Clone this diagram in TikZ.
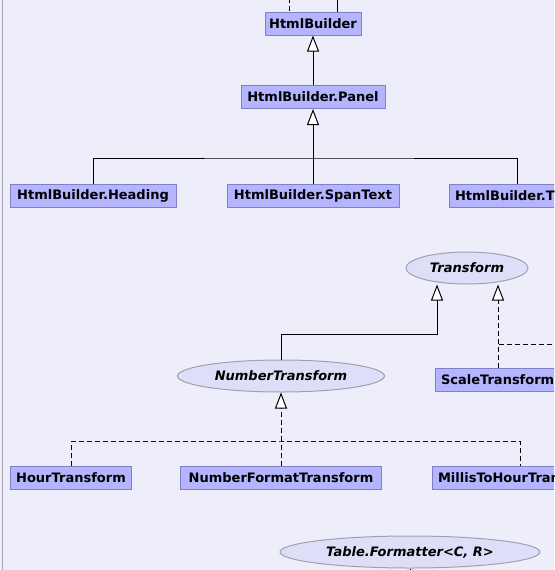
\documentclass[tikz,border=0pt]{standalone}
\usepackage{fontspec}
\usepackage{xcolor}
\usetikzlibrary{arrows.meta,shapes.geometric,calc}
\newfontfamily\dejavu{DejaVu Sans}

\definecolor{bgcol}{RGB}{238,238,250}
\definecolor{framecol}{RGB}{168,168,184}
\definecolor{clsfill}{RGB}{180,180,255}
\definecolor{clsline}{RGB}{128,128,200}
\definecolor{iffill}{RGB}{222,222,248}
\definecolor{ifline}{RGB}{160,160,176}

\tikzset{
  cls/.style={draw=clsline,fill=clsfill,line width=1pt,inner xsep=2pt,inner ysep=0pt,
    minimum height=23pt,font=\dejavu\bfseries\fontsize{13}{15}\selectfont},
  cutcls/.style={cls,inner xsep=6pt,align=left},
  iface/.style={ellipse,draw=ifline,fill=iffill,line width=1pt,inner sep=0pt,
    minimum height=32pt,font=\dejavu\bfseries\itshape\fontsize{13}{15}\selectfont},
  link/.style={line width=1pt},
  dashlink/.style={link,dash pattern=on 5pt off 3pt},
  inherit/.style={link,-{Triangle[fill=white,length=16pt,width=12pt]}},
  realize/.style={inherit,dash pattern=on 5pt off 3pt},
}

\begin{document}
\begin{tikzpicture}[x=1pt,y=-1pt]
\useasboundingbox (0,0) rectangle (554,570);
\fill[bgcol] (0,0) rectangle (554,570);
\clip (0,0) rectangle (554,570);
\draw[framecol,line width=1pt] (2,0)--(2,570);

% HtmlBuilder tree
\node[cls,minimum width=96pt] (hb) at (313,23.5){HtmlBuilder};
\node[cls,minimum width=144pt] (panel) at (313,97){HtmlBuilder.Panel};
\node[cls,minimum width=166pt] (heading) at (93,195.5){HtmlBuilder.Heading};
\node[cls,minimum width=172pt] (span) at (313,195.5){HtmlBuilder.SpanText};
\node[cutcls,text width=124pt] (htext) at (517,195.5){HtmlBuilder.T};

\coordinate (upA) at (289,-10);
\coordinate (upB) at (337,-10);
\draw[dashlink] (upA)--(upA |- hb.north);
\draw[link] (upB)--(upB |- hb.north);

\draw[inherit] (panel)--(hb);
\coordinate (jp) at (313,158);
\draw[link] (heading.north) |- (jp) -| (htext.north);
\draw[link] (span.north)--(jp);
\draw[inherit] (jp)--(panel);

% Transform tree
\node[iface,minimum width=122pt] (transform) at (467,268){Transform};
\node[iface,minimum width=207pt] (numtr) at (281,376){NumberTransform};
\node[cutcls,text width=114pt] (scale) at (498,379.5){ScaleTransform};

\coordinate (jt) at (437,334);
\draw[inherit] (numtr.north) |- (jt) -- ($(transform.south)+(-30,0)$);
\draw[realize] (scale.north)--($(transform.south)+(31,0)$);
\coordinate (offr) at (560,344);
\draw[dashlink] (offr)--(offr -| scale.north);

\node[cls,minimum width=121pt] (hour) at (71,477.5){HourTransform};
\node[cls,minimum width=201pt] (nft) at (281,477.5){NumberFormatTransform};
\node[cutcls,text width=164pt] (millis) at (520,477.5){MillisToHourTran};

\coordinate (jn) at (281,441);
\draw[dashlink] (hour.north) |- (jn) -| (millis.north);
\draw[dashlink] (nft.north)--(jn);
\draw[realize] (jn)--(numtr);

% Formatter
\node[iface,minimum width=260pt] (fmt) at (410,552){Table.Formatter<C, R>};
\coordinate (offb) at (410,580);
\draw[link] (fmt)--(offb);
\end{tikzpicture}
\end{document}
